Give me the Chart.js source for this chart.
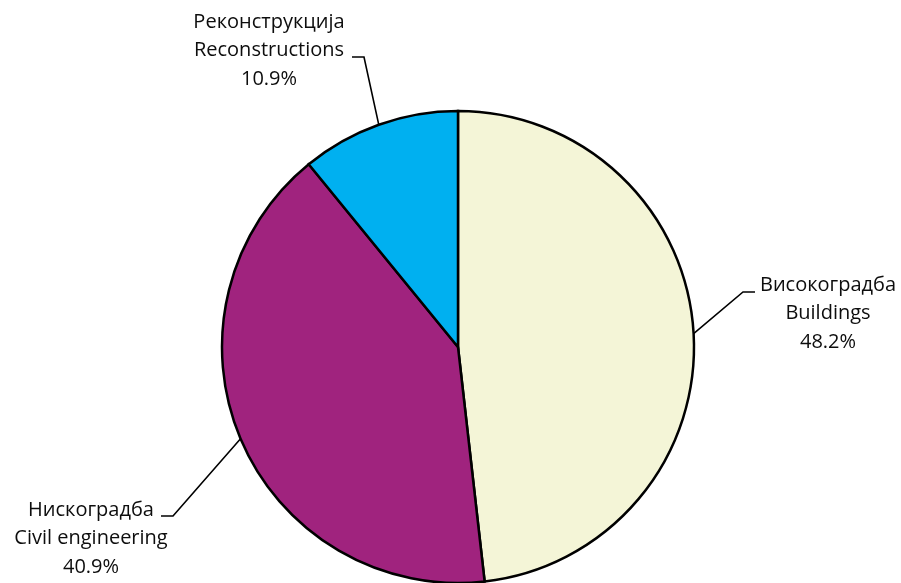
<!DOCTYPE html>
<html>
<head>
<meta charset="utf-8">
<script src="https://cdn.jsdelivr.net/npm/chart.js@4"></script>
<style>
  html, body { margin: 0; padding: 0; background: #ffffff; }
  #wrap { width: 901px; height: 583px; position: relative; }
</style>
</head>
<body>
<div id="wrap"><canvas id="c" width="901" height="583"></canvas></div>
<script>
// ---- Data ----
const categoriesMk = ['Високоградба', 'Нискоградба', 'Реконструкција'];
const categoriesEn = ['Buildings', 'Civil engineering', 'Reconstructions'];
const shares = [48.2, 40.9, 10.9];
const sliceColors = ['#F4F5D7', '#A0237E', '#00B0F0'];

// ---- Label layout (style only) ----
// cx: text centre x, y0: first line centre y, elbow: bend of leader, end: leader end near text
const labelLayout = [
  { cx: 828, y0: 285, elbow: [743, 292], end: [755, 292] },
  { cx: 91,  y0: 510, elbow: [173, 516], end: [161, 516] },
  { cx: 269, y0: 22,  elbow: [364, 57],  end: [352, 57] }
];
const LINE_H = 28.5;
const FONT = '20px "Open Sans", "Noto Sans", sans-serif';

const labelPlugin = {
  id: 'sliceLabels',
  afterDatasetsDraw(chart) {
    const ctx = chart.ctx;
    const meta = chart.getDatasetMeta(0);
    ctx.save();
    meta.data.forEach((arc, i) => {
      const p = arc.getProps(['x', 'y', 'startAngle', 'endAngle', 'outerRadius'], true);
      const mid = (p.startAngle + p.endAngle) / 2;
      const ax = p.x + Math.cos(mid) * p.outerRadius;
      const ay = p.y + Math.sin(mid) * p.outerRadius;
      const L = labelLayout[i];
      ctx.strokeStyle = '#000';
      ctx.lineWidth = 1.6;
      ctx.beginPath();
      ctx.moveTo(ax, ay);
      ctx.lineTo(L.elbow[0], L.elbow[1]);
      ctx.lineTo(L.end[0], L.end[1]);
      ctx.stroke();
      ctx.fillStyle = '#0d0d0d';
      ctx.font = FONT;
      ctx.textAlign = 'center';
      ctx.textBaseline = 'middle';
      const lines = [categoriesMk[i], categoriesEn[i], shares[i].toFixed(1) + '%'];
      lines.forEach((t, k) => ctx.fillText(t, L.cx, L.y0 + k * LINE_H));
    });
    ctx.restore();
  }
};

new Chart(document.getElementById('c'), {
  type: 'pie',
  data: {
    labels: categoriesEn,
    datasets: [{
      data: shares,
      backgroundColor: sliceColors,
      borderColor: '#000000',
      borderWidth: 2.5,
      borderJoinStyle: 'miter'
    }]
  },
  options: {
    responsive: false,
    animation: false,
    radius: 236,
    layout: { padding: { left: 15, right: 0, top: 111, bottom: 0 } },
    plugins: {
      legend: { display: false },
      tooltip: { enabled: false }
    }
  },
  plugins: [labelPlugin]
});
</script>
</body>
</html>
